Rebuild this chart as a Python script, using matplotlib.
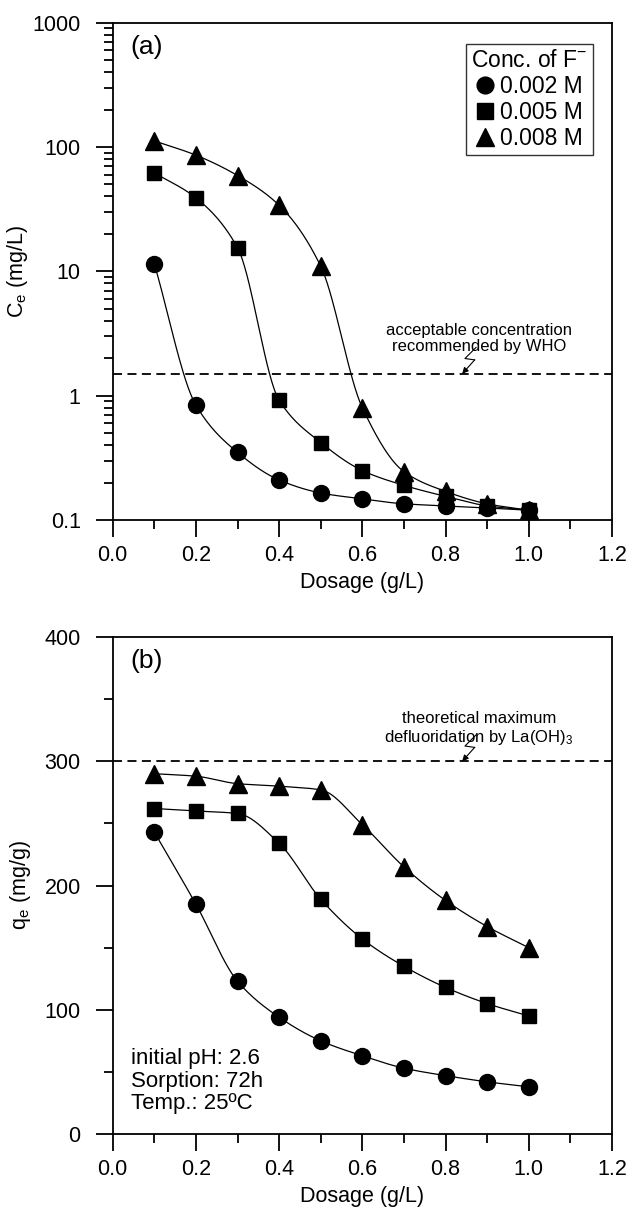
import numpy as np
import matplotlib
matplotlib.use("Agg")
import matplotlib.pyplot as plt
import matplotlib.ticker as mticker

plt.rcParams['font.family'] = ['Liberation Sans', 'DejaVu Sans']
plt.rcParams['mathtext.fontset'] = 'custom'
plt.rcParams['mathtext.rm'] = 'Liberation Sans'
plt.rcParams['mathtext.it'] = 'Liberation Sans:italic'
plt.rcParams['font.size'] = 15.5

# data
dosage = [0.1, 0.2, 0.3, 0.4, 0.5, 0.6, 0.7, 0.8, 0.9, 1.0]
conc_labels = ['0.002 M', '0.005 M', '0.008 M']
markers = ['o', 's', '^']

ce_002 = [11.5, 0.84, 0.35, 0.21, 0.165, 0.148, 0.135, 0.13, 0.125, 0.12]
ce_005 = [62.0, 39.0, 15.5, 0.92, 0.42, 0.25, 0.19, 0.155, 0.13, 0.12]
ce_008 = [112.0, 86.0, 59.0, 34.0, 11.0, 0.8, 0.245, 0.17, 0.135, 0.12]

qe_002 = [243, 185, 123, 94, 75, 63, 53, 47, 42, 38]
qe_005 = [262, 260, 258, 234, 189, 157, 135, 118, 105, 95]
qe_008 = [290, 288, 282, 280, 277, 249, 215, 188, 167, 150]

who_limit = 1.5
qmax_theory = 300


def pchip(x, y, xs):
    # monotone cubic, only used to draw the smooth connecting curve
    x = np.asarray(x, float)
    y = np.asarray(y, float)
    h = np.diff(x)
    d = np.diff(y) / h
    m = np.zeros_like(y)
    m[0], m[-1] = d[0], d[-1]
    for k in range(1, len(x) - 1):
        if d[k - 1] * d[k] <= 0:
            m[k] = 0
        else:
            w1 = 2 * h[k] + h[k - 1]
            w2 = h[k] + 2 * h[k - 1]
            m[k] = (w1 + w2) / (w1 / d[k - 1] + w2 / d[k])
    idx = np.clip(np.searchsorted(x, xs) - 1, 0, len(x) - 2)
    t = (xs - x[idx]) / h[idx]
    h00 = 2 * t**3 - 3 * t**2 + 1
    h10 = t**3 - 2 * t**2 + t
    h01 = -2 * t**3 + 3 * t**2
    h11 = t**3 - t**2
    return h00 * y[idx] + h10 * h[idx] * m[idx] + h01 * y[idx + 1] + h11 * h[idx] * m[idx + 1]


def style_axes(ax):
    for s in ax.spines.values():
        s.set_linewidth(1.3)
    ax.tick_params(which='major', direction='out', length=12, width=1.3, labelsize=15.5)
    ax.tick_params(which='minor', direction='out', length=6.5, width=1.3)
    ax.tick_params(axis='x', which='major', pad=6)
    ax.tick_params(axis='y', which='major', pad=11)
    ax.set_xlim(0, 1.2)
    ax.set_xticks(np.arange(0, 1.21, 0.2))
    ax.set_xticks(np.arange(0.1, 1.2, 0.2), minor=True)
    ax.xaxis.set_major_formatter(mticker.FormatStrFormatter('%.1f'))
    ax.set_xlabel('Dosage (g/L)', fontsize=15.5, labelpad=4)


def zigzag(ax, x, y):
    # small lightning-style pointer ending at (x, y)
    pts = np.array([[10, 19], [2, 11], [9, 10], [0, 0]]) / 72.0
    disp = ax.transData.transform((x, y)) + pts * ax.figure.dpi
    dat = ax.transData.inverted().transform(disp)
    ax.plot(dat[:3, 0], dat[:3, 1], color='black', lw=0.8)
    ax.annotate('', xy=dat[3], xytext=dat[2],
                arrowprops=dict(arrowstyle='-|>', lw=0.8, color='black',
                                mutation_scale=9, shrinkA=0, shrinkB=0))


fig = plt.figure(figsize=(6.32, 12.19), dpi=100)
ax1 = fig.add_axes([0.1783, 0.5734, 0.7900, 0.4080])
ax2 = fig.add_axes([0.1783, 0.0697, 0.7900, 0.4077])

xs = np.linspace(0.1, 1.0, 300)
msize = {'o': 11.5, 's': 10.5, '^': 12.5}

# panel (a)
for ce, mk, lab in zip([ce_002, ce_005, ce_008], markers, conc_labels):
    ax1.plot(xs, 10 ** pchip(dosage, np.log10(ce), xs), color='black', lw=0.9)
    ax1.plot(dosage, ce, linestyle='none', marker=mk, color='black',
             markersize=msize[mk], label=lab)
ax1.axhline(who_limit, color='black', lw=1.3, ls=(0, (5, 3)))
ax1.set_yscale('log')
ax1.set_ylim(0.1, 1000)
ax1.set_yticks([0.1, 1, 10, 100, 1000])
ax1.set_yticklabels(['0.1', '1', '10', '100', '1000'])
style_axes(ax1)
ax1.set_ylabel(r'C$_\mathregular{e}$ (mg/L)', fontsize=15.5, labelpad=2)
ax1.text(0.035, 0.975, '(a)', transform=ax1.transAxes, fontsize=19, va='top', ha='left')
ax1.text(0.88, 2.9, 'acceptable concentration\nrecommended by WHO', fontsize=12,
         ha='center', va='center', linespacing=1.1)
zigzag(ax1, 0.84, who_limit)
leg = ax1.legend(title='Conc. of F$^{\\mathregular{-}}$', loc='upper right',
                 bbox_to_anchor=(0.963, 0.958), frameon=True, fancybox=False,
                 edgecolor='black', fontsize=16.5, title_fontsize=16.5,
                 handlelength=0.7, handletextpad=0.3, borderpad=0.25,
                 labelspacing=0.12, borderaxespad=0, markerscale=1.05)
leg.get_frame().set_linewidth(1.0)

# panel (b)
for qe, mk, lab in zip([qe_002, qe_005, qe_008], markers, conc_labels):
    ax2.plot(xs, pchip(dosage, qe, xs), color='black', lw=0.9)
    ax2.plot(dosage, qe, linestyle='none', marker=mk, color='black',
             markersize=msize[mk], label=lab)
ax2.axhline(qmax_theory, color='black', lw=1.3, ls=(0, (5, 3)))
ax2.set_ylim(0, 400)
ax2.set_yticks([0, 100, 200, 300, 400])
ax2.set_yticks([50, 150, 250, 350], minor=True)
style_axes(ax2)
ax2.set_ylabel(r'q$_\mathregular{e}$ (mg/g)', fontsize=15.5, labelpad=8)
ax2.text(0.035, 0.975, '(b)', transform=ax2.transAxes, fontsize=19, va='top', ha='left')
ax2.text(0.88, 326, 'theoretical maximum\ndefluoridation by La(OH)$_\\mathregular{3}$',
         fontsize=12, ha='center', va='center', linespacing=1.1)
zigzag(ax2, 0.84, qmax_theory)
ax2.text(0.037, 0.04, 'initial pH: 2.6\nSorption: 72h\nTemp.: 25\u00baC',
         transform=ax2.transAxes, fontsize=16, ha='left', va='bottom', linespacing=1.1)

fig.savefig('out.png', dpi=100)
